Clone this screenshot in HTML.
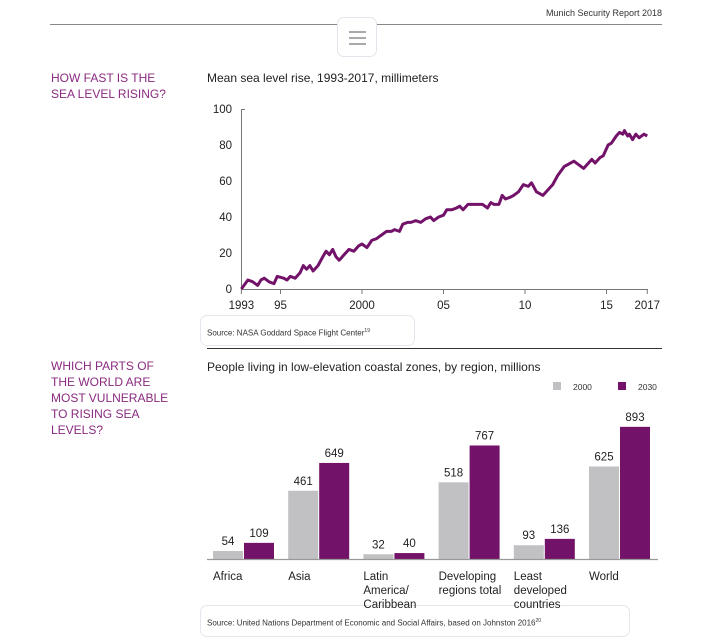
<!DOCTYPE html>
<html><head><meta charset="utf-8"><style>
body{margin:0;width:704px;height:636px;background:#fff;font-family:"Liberation Sans",sans-serif;overflow:hidden;position:relative}
.a{position:absolute}
.q{color:#8a2a80;font-size:12px;line-height:16px;position:absolute;left:51px}
</style></head><body>
<div class="a" style="right:42px;top:8px;font-size:9px;color:#333">Munich Security Report 2018</div>
<div class="a" style="left:50px;top:24px;width:612px;height:1px;background:#888"></div>
<div class="a" style="left:337px;top:17px;width:38px;height:38px;border:1px solid #e4e4ec;border-radius:7px;background:#fff">
<div style="position:absolute;left:11px;top:13px;width:17px;height:1.5px;background:#aaa"></div>
<div style="position:absolute;left:11px;top:19px;width:17px;height:1.5px;background:#aaa"></div>
<div style="position:absolute;left:11px;top:25px;width:17px;height:1.5px;background:#aaa"></div></div>
<div class="q" style="top:70px">HOW FAST IS THE<br>SEA LEVEL RISING?</div>
<div class="q" style="top:358px">WHICH PARTS OF<br>THE WORLD ARE<br>MOST VULNERABLE<br>TO RISING SEA<br>LEVELS?</div>
<div class="a" style="left:207px;top:71px;font-size:12px;color:#222">Mean sea level rise, 1993-2017, millimeters</div>
<div class="a" style="left:200px;top:315px;width:215px;height:31px;border:1px solid #e6e6ee;border-radius:7px;box-sizing:border-box"></div>
<div class="a" style="left:207px;top:328px;font-size:8px;color:#333">Source: NASA Goddard Space Flight Center<sup style="font-size:5px">19</sup></div>
<div class="a" style="left:207px;top:348px;width:455px;height:1px;background:#333"></div>
<div class="a" style="left:207px;top:360px;font-size:12px;color:#222">People living in low-elevation coastal zones, by region, millions</div>
<div class="a" style="left:200px;top:605px;width:430px;height:32px;border:1px solid #e6e6ee;border-radius:7px;box-sizing:border-box"></div>
<div class="a" style="left:207px;top:618px;font-size:8px;color:#333">Source: United Nations Department of Economic and Social Affairs, based on Johnston 2016<sup style="font-size:5px">20</sup></div>
<svg class="a" id="svg" style="left:0;top:0" width="704" height="636" font-family="Liberation Sans, sans-serif"></svg>
<script>
const years=[1992.6,1993.0,1993.3,1993.6,1993.8,1994.0,1994.3,1994.6,1994.8,1995.2,1995.4,1995.6,1995.9,1996.2,1996.4,1996.6,1996.8,1997.0,1997.3,1997.6,1997.8,1998.0,1998.2,1998.4,1998.6,1998.9,1999.2,1999.5,1999.8,2000.0,2000.3,2000.6,2000.9,2001.2,2001.5,2001.8,2002.0,2002.3,2002.5,2002.8,2003.0,2003.3,2003.6,2003.9,2004.2,2004.4,2004.7,2005.0,2005.2,2005.5,2005.8,2006.0,2006.2,2006.5,2006.8,2007.1,2007.4,2007.7,2007.9,2008.1,2008.4,2008.6,2008.8,2009.1,2009.3,2009.6,2009.9,2010.2,2010.4,2010.7,2010.9,2011.1,2011.4,2011.7,2012.0,2012.4,2012.6,2013.0,2013.3,2013.6,2013.8,2014.1,2014.3,2014.6,2014.8,2015.1,2015.3,2015.6,2015.8,2016.0,2016.1,2016.3,2016.4,2016.6,2016.8,2017.0,2017.3,2017.5];
const sea=[0,5,4,2,5,6,4,3,7,6,5,7,6,9,13,11,13,10,13,18,21,19,22,18,16,19,22,21,24,25,23,27,28,30,32,32,33,32,36,37,37,38,37,39,40,38,40,41,44,44,45,46,44,47,47,47,47,45,48,47,47,52,50,51,52,54,58,57,59,54,53,52,55,58,63,68,69,71,69,67,69,72,70,73,74,80,81,85,87,86,88,85,86,83,86,84,86,85];
const xTickVals=[1992.6,1995,2000,2005,2010,2015,2017.5];
const xTickLabels=["1993","95","2000","05","10","15","2017"];
const yTicks=[0,20,40,60,80,100];
const regions=[["Africa"],["Asia"],["Latin","America/","Caribbean"],["Developing","regions total"],["Least","developed","countries"],["World"]];
const v2000=[54,461,32,518,93,625];
const v2030=[109,649,40,767,136,893];
const legendLabels=["2000","2030"];

const svg=document.getElementById('svg');
const NS='http://www.w3.org/2000/svg';
function mk(t,a,txt){const e=document.createElementNS(NS,t);for(const k in a)e.setAttribute(k,a[k]);if(txt!==undefined)e.textContent=txt;svg.appendChild(e);return e;}
const X=y=>362+(y-2000)*16.3;
const Y=v=>289-v*1.8;
let e=mk('line',{x1:241.5,y1:Y(100),x2:241.5,y2:289,stroke:'#777','stroke-width':1});

e=mk('line',{x1:241.5,y1:289.5,x2:648,y2:289.5,stroke:'#777','stroke-width':1});

yTicks.forEach(t=>{
 e=mk('text',{x:232,y:Y(t)+4,'text-anchor':'end','font-size':11.5,fill:'#222'},t);
 
});
e=mk('line',{x1:241,y1:Y(100)+.5,x2:245,y2:Y(100)+.5,stroke:'#777'});

xTickVals.forEach((t,i)=>{
 e=mk('line',{x1:X(t),y1:289,x2:X(t),y2:294,stroke:'#777'});
 
 e=mk('text',{x:X(t),y:309,'text-anchor':'middle','font-size':11.5,fill:'#222'},xTickLabels[i]);
 
});
e=mk('polyline',{points:years.map((y,i)=>X(y)+','+Y(sea[i])).join(' '),fill:'none',stroke:'#731269','stroke-width':3,'stroke-linejoin':'round'});


// bar chart
const B0=559,S=0.148,GX=213,STEP=75.2,BW=30;
const BY=v=>B0-v*S;
regions.forEach((r,i)=>{
 const gx=GX+i*STEP;
 [[v2000[i],'#c1c1c3',gx,'bar-2000'],[v2030[i],'#731269',gx+BW+1,'bar-2030']].forEach(([v,c,x,n])=>{
  e=mk('rect',{x:x,y:BY(v),width:BW,height:v*S,fill:c});
  
  e=mk('text',{x:x+BW/2,y:BY(v)-6,'text-anchor':'middle','font-size':11.5,fill:'#222'},v);
  
 });
 r.forEach((l,j)=>{
  e=mk('text',{x:gx,y:580+j*14,'font-size':11.5,fill:'#222'},l);
  
 });
});
e=mk('line',{x1:207,y1:B0+.5,x2:658,y2:B0+.5,stroke:'#999','stroke-width':1.2});

[['#c1c1c3',553,legendLabels[0]],['#731269',618,legendLabels[1]]].forEach(([c,x,l])=>{
 e=mk('rect',{x:x,y:382,width:8,height:8,fill:c});
 
 e=mk('text',{x:x+20,y:390,'font-size':8.5,fill:'#333'},l);
 
});
</script>
</body></html>
